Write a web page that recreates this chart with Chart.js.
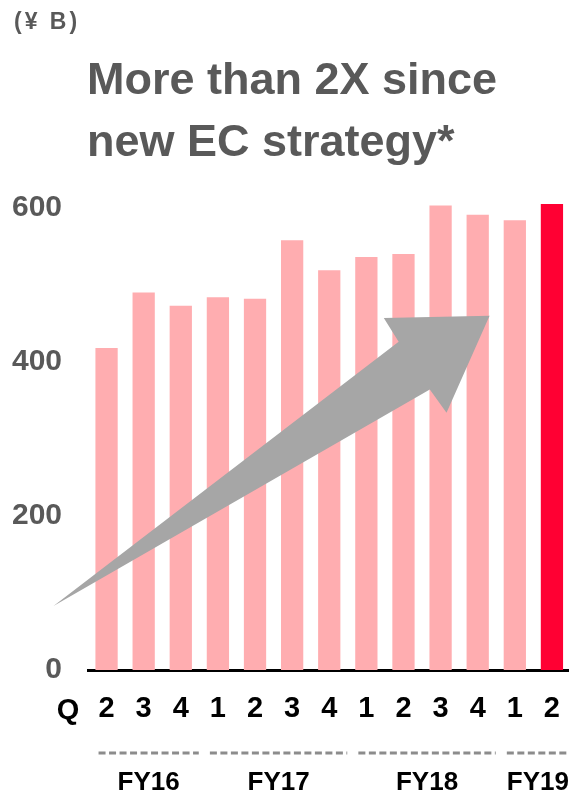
<!DOCTYPE html>
<html>
<head>
<meta charset="utf-8">
<script src="https://cdn.jsdelivr.net/npm/chart.js@4.4.1/dist/chart.umd.min.js"></script>
<style>
    body { margin: 0; background: #fff; }
    #wrap { position: relative; width: 569px; height: 794px; overflow: hidden; }
    #plot { position: absolute; left: 0; top: 0; width: 582px; height: 794px; }
    .unit {
        position: absolute; left: 14px; top: 10px;
        font: bold 23px 'Liberation Sans', Arial, sans-serif;
        line-height: 23px; letter-spacing: 3px; color: #595959;
    }
    .title {
        position: absolute; left: 87px; top: 48px;
        font: bold 45px 'Liberation Sans', Arial, sans-serif;
        line-height: 62px; color: #595959; white-space: nowrap;
    }
</style>
</head>
<body>
<div id="wrap">
    <div id="plot"><canvas id="ecChart"></canvas></div>
    <div class="unit">(¥ B)</div>
    <div class="title">More than 2X since<br>new EC strategy*</div>
</div>
<script>
// Quarterly values (¥B)
const quarters = ['2', '3', '4', '1', '2', '3', '4', '1', '2', '3', '4', '1', '2'];
const revenue = [418, 490, 473, 484, 482, 558, 519, 536, 540, 603, 591, 584, 605];
const yTicks = [0, 200, 400, 600];

// Fiscal year groups (first / last quarter index)
const fiscalYears = ['FY16', 'FY17', 'FY18', 'FY19'];
const fyStart = [0, 3, 7, 11];
const fyEnd = [2, 6, 10, 12];

// Growth arrow outline, in (quarter index, value) units
const arrowX = [-1.43, 7.87, 7.47, 10.32, 9.16, 8.71];
const arrowY = [83, 426, 457, 460, 334, 364];

const FONT = "'Liberation Sans', Arial, sans-serif";
const pink = '#ffadb0';
const red = '#ff0033';
const PAGE_W = 569;

const extrasPlugin = {
    id: 'extras',
    afterDatasetsDraw(chart) {
        const { ctx, scales: { x, y } } = chart;
        // grey arrow over the bars
        ctx.save();
        ctx.fillStyle = '#a6a6a6';
        ctx.beginPath();
        arrowX.forEach((v, i) => {
            const px = x.getPixelForValue(v);
            const py = y.getPixelForValue(arrowY[i]);
            if (i === 0) ctx.moveTo(px, py); else ctx.lineTo(px, py);
        });
        ctx.closePath();
        ctx.fill();
        ctx.restore();
    },
    afterDraw(chart) {
        const { ctx, scales: { x } } = chart;
        ctx.save();
        // "Q" in front of the quarter labels
        ctx.font = 'bold 29px ' + FONT;
        ctx.fillStyle = '#000';
        ctx.textAlign = 'center';
        ctx.textBaseline = 'alphabetic';
        ctx.fillText('Q', 68, 719);

        // dashed separators + fiscal year labels
        fiscalYears.forEach((fy, i) => {
            const x0 = x.getPixelForValue(fyStart[i]) - 8;
            const x1 = Math.min(x.getPixelForValue(fyEnd[i]) + 18, PAGE_W);
            ctx.strokeStyle = '#8c8c8c';
            ctx.lineWidth = 3;
            ctx.setLineDash([7, 3.5]);
            ctx.beginPath();
            ctx.moveTo(x0, 753);
            ctx.lineTo(x1, 753);
            ctx.stroke();
            ctx.setLineDash([]);
            ctx.font = 'bold 26px ' + FONT;
            ctx.fillStyle = '#000';
            ctx.fillText(fy, (x0 + x1) / 2, 790);
        });
        ctx.restore();
    }
};

new Chart(document.getElementById('ecChart'), {
    type: 'bar',
    data: {
        labels: quarters,
        datasets: [{
            data: revenue,
            backgroundColor: revenue.map((v, i) => i === revenue.length - 1 ? red : pink),
            barPercentage: 0.6,
            categoryPercentage: 1.0
        }]
    },
    options: {
        responsive: true,
        maintainAspectRatio: false,
        animation: false,
        layout: { padding: { top: 177, left: 0, right: 0, bottom: 0 } },
        plugins: {
            legend: { display: false },
            tooltip: { enabled: false }
        },
        scales: {
            x: {
                grid: { display: false, drawTicks: false },
                border: { display: true, color: '#000', width: 3 },
                ticks: {
                    color: '#000',
                    font: { family: FONT, size: 29, weight: 'bold' },
                    padding: 22,
                    maxRotation: 0
                },
                afterFit(axis) { axis.height = 124; }
            },
            y: {
                min: 0,
                max: 640,
                grid: { display: false, drawTicks: false },
                border: { display: false },
                ticks: {
                    color: '#595959',
                    font: { family: FONT, size: 30, weight: 'bold' },
                    padding: 26
                },
                afterBuildTicks(axis) { axis.ticks = yTicks.map(v => ({ value: v })); },
                afterFit(axis) { axis.width = 88; }
            }
        }
    },
    plugins: [extrasPlugin]
});
</script>
</body>
</html>
